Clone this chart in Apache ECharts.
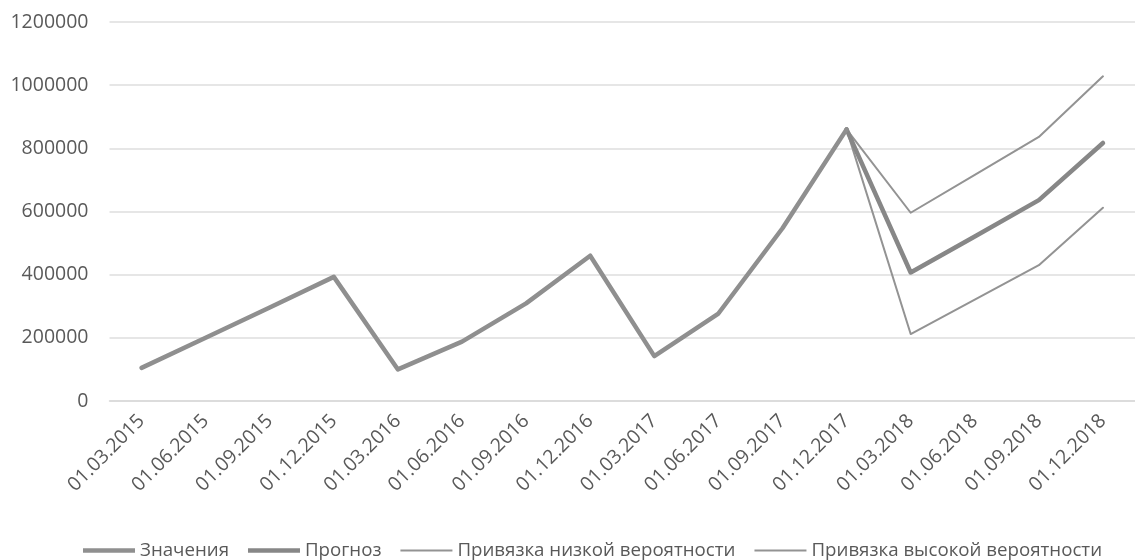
<!DOCTYPE html>
<html>
<head>
<meta charset="utf-8">
<script src="https://cdn.jsdelivr.net/npm/echarts@6/dist/echarts.min.js"></script>
<style>
html,body{margin:0;padding:0;background:#fff;}
#chart{width:1135px;height:560px;}
</style>
</head>
<body>
<div id="chart"></div>
<script>
var categories = ['01.03.2015','01.06.2015','01.09.2015','01.12.2015','01.03.2016','01.06.2016','01.09.2016','01.12.2016','01.03.2017','01.06.2017','01.09.2017','01.12.2017','01.03.2018','01.06.2018','01.09.2018','01.12.2018'];
var values   = [105000, 200000, 296000, 393000, 100000, 188000, 309000, 460000, 142000, 277000, 547000, 860000, null, null, null, null];
var forecast = [null, null, null, null, null, null, null, null, null, null, null, 860000, 407000, 521000, 636000, 817000];
var lowBound = [null, null, null, null, null, null, null, null, null, null, null, 860000, 212000, 321000, 430000, 612000];
var highBound= [null, null, null, null, null, null, null, null, null, null, null, 860000, 596000, 716000, 836000, 1028000];
var yTicks = {min: 0, max: 1200000, interval: 200000};
var seriesNames = ['Значения', 'Прогноз', 'Привязка низкой вероятности', 'Привязка высокой вероятности'];

var FONT = 'Open Sans';
var TXT = '#595959';
var THICK = 'path://M0,0H52V4.5H0Z';
var THIN = 'path://M0,0H52V2H0Z';
function line(name, data, color, width, z) {
  return {
    name: name, type: 'line', data: data, symbol: 'none', showSymbol: false,
    connectNulls: false, z: z,
    itemStyle: {color: color},
    lineStyle: {color: color, width: width, join: 'round', cap: 'round'},
    emphasis: {disabled: true}
  };
}
var chart = echarts.init(document.getElementById('chart'));
chart.setOption({
  animation: false,
  backgroundColor: '#fff',
  grid: {left: 109.5, top: 22, width: 1030, height: 379},
  legend: {
    left: 78, top: 536,
    itemWidth: 52, itemHeight: 14, itemGap: 19,
    itemStyle: {borderWidth: 0},
    textStyle: {fontFamily: FONT, fontSize: 18.7, color: TXT},
    data: [
      {name: seriesNames[0], icon: THICK},
      {name: seriesNames[1], icon: THICK},
      {name: seriesNames[2], icon: THIN},
      {name: seriesNames[3], icon: THIN}
    ]
  },
  xAxis: {
    type: 'category', data: categories, boundaryGap: true,
    axisLine: {show: true, lineStyle: {color: '#d9d9d9', width: 1.5}},
    axisTick: {show: false},
    axisLabel: {interval: 0, rotate: 45, margin: 17, fontFamily: FONT, fontSize: 19.5, color: TXT}
  },
  yAxis: {
    type: 'value', min: yTicks.min, max: yTicks.max, interval: yTicks.interval,
    axisLine: {show: false}, axisTick: {show: false},
    splitLine: {lineStyle: {color: '#dedede', width: 1.5}},
    axisLabel: {margin: 21, fontFamily: FONT, fontSize: 19.5, color: TXT,
      formatter: function (v) { return String(v); }}
  },
  series: [
    line(seriesNames[0], values, '#8f8f8f', 4.5, 4),
    line(seriesNames[1], forecast, '#878787', 4.5, 3),
    line(seriesNames[2], lowBound, '#939393', 2, 2),
    line(seriesNames[3], highBound, '#939393', 2, 2)
  ]
});
</script>
</body>
</html>
